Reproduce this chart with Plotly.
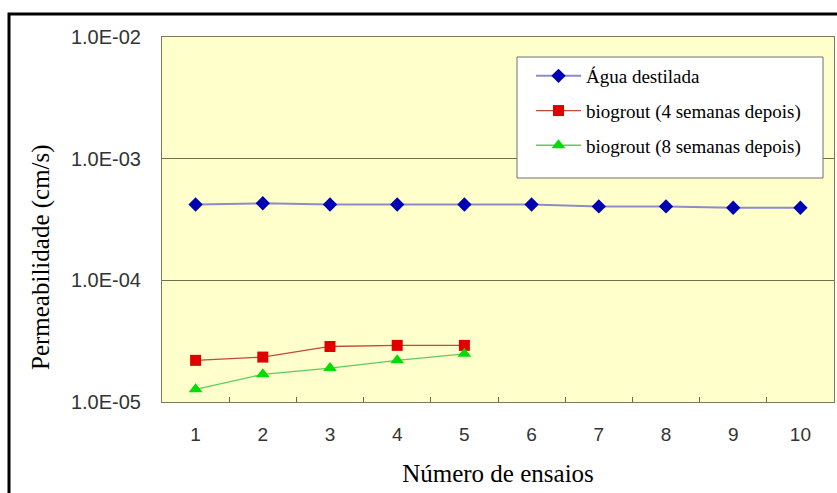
import plotly.graph_objects as go

ensaios = [1, 2, 3, 4, 5, 6, 7, 8, 9, 10]
agua = [4.2e-4, 4.3e-4, 4.2e-4, 4.2e-4, 4.2e-4, 4.2e-4, 4.05e-4, 4.05e-4, 3.95e-4, 3.95e-4]
bio4_x = [1, 2, 3, 4, 5]
bio4 = [2.2e-5, 2.34e-5, 2.86e-5, 2.92e-5, 2.92e-5]
bio8_x = [1, 2, 3, 4, 5]
bio8 = [1.27e-5, 1.69e-5, 1.9e-5, 2.2e-5, 2.49e-5]
names = ["Água destilada", "biogrout (4 semanas depois)", "biogrout (8 semanas depois)"]
ytick_vals = [1e-5, 1e-4, 1e-3, 1e-2]
ytick_text = ["1.0E-05", "1.0E-04", "1.0E-03", "1.0E-02"]

SERIF = "Liberation Serif, Times New Roman, serif"
SANS = "Liberation Sans, Arial, sans-serif"

fig = go.Figure()
fig.add_trace(go.Scatter(x=ensaios, y=agua, name=names[0], mode="lines+markers",
                         line=dict(color="#8c8cc8", width=2),
                         marker=dict(symbol="diamond", size=11, color="#0000b4"),
                         legendgroup="a"))
fig.add_trace(go.Scatter(x=bio4_x, y=bio4, name=names[1], mode="lines+markers",
                         line=dict(color="#c04a3a", width=1.3),
                         marker=dict(symbol="square", size=11, color="#e00000"),
                         legendgroup="b"))
fig.add_trace(go.Scatter(x=bio8_x, y=bio8, name=names[2], mode="lines+markers",
                         line=dict(color="#5ccc5c", width=1.3),
                         marker=dict(symbol="triangle-up", size=12, color="#00dd00"),
                         legendgroup="c"))

W, H = 837, 493
L, R, T, B = 162, 3, 37, 91
pw, ph = W - L - R, H - T - B

def px(x):
    return (x - L) / pw

def py(y):
    return 1 - (y - T) / ph

fig.update_layout(
    width=W, height=H,
    margin=dict(l=L, r=R, t=T, b=B),
    paper_bgcolor="white",
    plot_bgcolor="#FFFFCC",
    showlegend=True,
    legend=dict(
        x=px(531), y=py(57), xanchor="left", yanchor="top",
        bgcolor="rgba(0,0,0,0)", borderwidth=0,
        font=dict(family=SERIF, size=19, color="black"),
        tracegroupgap=7, itemwidth=45,
    ),
    xaxis=dict(
        range=[0.5, 10.5], tickvals=ensaios, ticktext=[str(v) for v in ensaios],
        ticks="", showgrid=False, zeroline=False,
        showline=True, linecolor="#7a7a5a", linewidth=1, mirror=True,
        tickfont=dict(family=SANS, size=19, color="#333333"),
        ticklabelstandoff=15,
        minor=dict(tickvals=[1.5, 2.5, 3.5, 4.5, 5.5, 6.5, 7.5, 8.5, 9.5],
                   ticks="inside", ticklen=5, tickcolor="#6a6a5a", tickwidth=1, showgrid=False),
        title=dict(text="Número de ensaios",
                   font=dict(family=SERIF, size=25, color="black"),
                   standoff=20),
    ),
    yaxis=dict(
        type="log", range=[-5, -2], tickvals=ytick_vals, ticktext=ytick_text,
        ticks="", showgrid=True, gridcolor="#6f6f50", gridwidth=1, zeroline=False,
        showline=True, linecolor="#7a7a5a", linewidth=1, mirror=True,
        tickfont=dict(family=SANS, size=20, color="#333333"),
        ticklabelstandoff=16,
    ),
    annotations=[dict(
        text="Permeabilidade (cm/s)", textangle=-90,
        xref="paper", yref="paper", x=px(41), y=py(257),
        xanchor="center", yanchor="middle", showarrow=False,
        font=dict(family=SERIF, size=25, color="black"),
    )],
    shapes=[
        dict(type="rect", xref="paper", yref="paper",
             x0=px(517), x1=px(823), y0=py(178), y1=py(57),
             fillcolor="white", line=dict(color="#707070", width=1), layer="above"),
        dict(type="rect", xref="paper", yref="paper",
             x0=px(9), x1=px(850), y0=py(520), y1=py(14),
             line=dict(color="black", width=3), layer="above"),
    ],
)

fig.write_html("out.html")
